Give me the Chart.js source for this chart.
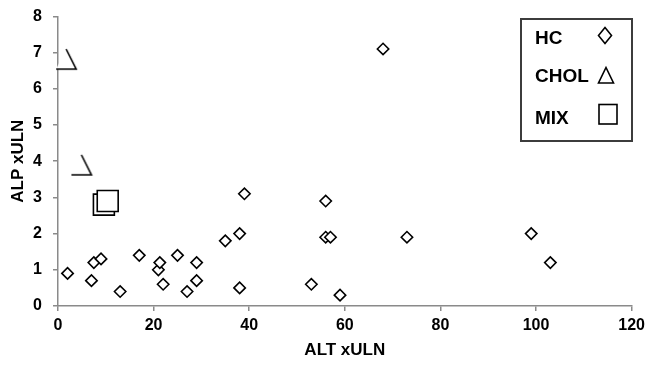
<!DOCTYPE html>
<html>
<head>
<meta charset="utf-8">
<script src="https://cdn.jsdelivr.net/npm/chart.js@4"></script>
<style>
  html, body { margin: 0; padding: 0; background: #fff; }
  #wrap { width: 648px; height: 369px; }
</style>
</head>
<body>
<div id="wrap"><canvas id="c" width="648" height="369"></canvas></div>
<script>
// ---- data ----
const seriesNames = ['HC', 'CHOL', 'MIX'];
const hcALT  = [2, 7, 7.5, 9, 13, 17, 21, 21.3, 22, 25, 27, 29, 29, 35, 38, 38, 39, 53, 56, 56, 57, 59, 68, 73, 99, 103];
const hcALP  = [0.9, 0.7, 1.2, 1.3, 0.4, 1.4, 1.0, 1.2, 0.6, 1.4, 0.4, 0.7, 1.2, 1.8, 2.0, 0.5, 3.1, 0.6, 2.9, 1.9, 1.9, 0.3, 7.1, 1.9, 2.0, 1.2];
const cholALT = [1.7, 4.9];
const cholALP = [6.82, 3.9];
const mixALT = [9.6, 10.4];
const mixALP = [2.8, 2.9];
const xTicks = [0, 20, 40, 60, 80, 100, 120];
const yTicks = [0, 1, 2, 3, 4, 5, 6, 7, 8];

const toPts = (xs, ys) => xs.map((x, i) => ({ x: x, y: ys[i] }));

// half-open triangle marker (left edge missing, white filled)
function makeTriangle() {
  const cv = document.createElement('canvas');
  cv.width = 26; cv.height = 26;
  const g = cv.getContext('2d');
  const cx = 13, top = 3, bot = 23, hw = 10;
  g.fillStyle = '#fff';
  g.beginPath(); g.moveTo(cx, top); g.lineTo(cx + hw, bot); g.lineTo(cx - hw, bot); g.closePath(); g.fill();
  g.strokeStyle = '#000'; g.lineWidth = 1.6;
  g.beginPath(); g.moveTo(cx, top); g.lineTo(cx + hw, bot); g.lineTo(cx - hw, bot); g.stroke();
  return cv;
}
const triImg = makeTriangle();

const FONT = "'Liberation Sans', Arial, sans-serif";
const AXIS_COLOR = '#8a8a8a';

const legendPlugin = {
  id: 'boxLegend',
  afterDraw(chart) {
    const ctx = chart.ctx;
    ctx.save();
    ctx.fillStyle = '#fff';
    ctx.fillRect(521, 19, 111, 122);
    ctx.strokeStyle = '#3c3c3c';
    ctx.lineWidth = 2;
    ctx.strokeRect(521, 19, 111, 122);
    ctx.fillStyle = '#000';
    ctx.font = 'bold 19px ' + FONT;
    ctx.textBaseline = 'alphabetic';
    ctx.textAlign = 'left';
    const baselines = [44, 82, 123.5];
    seriesNames.forEach((n, i) => ctx.fillText(n, 535, baselines[i]));
    ctx.strokeStyle = '#000';
    ctx.lineWidth = 1.6;
    // diamond
    ctx.beginPath();
    ctx.moveTo(605, 27.5); ctx.lineTo(611.5, 35.5); ctx.lineTo(605, 43.5); ctx.lineTo(598.5, 35.5); ctx.closePath();
    ctx.stroke();
    // triangle
    ctx.beginPath();
    ctx.moveTo(606, 67.5); ctx.lineTo(613.5, 83); ctx.lineTo(598.5, 83); ctx.closePath();
    ctx.stroke();
    // square
    ctx.strokeRect(599, 104.5, 18, 19.5);
    ctx.restore();
  }
};

new Chart(document.getElementById('c'), {
  type: 'scatter',
  data: {
    datasets: [
      {
        label: seriesNames[0],
        data: toPts(hcALT, hcALP),
        pointStyle: 'rectRot',
        pointRadius: 5.7,
        pointHoverRadius: 5.7,
        borderColor: '#000',
        backgroundColor: '#fff',
        borderWidth: 1.6,
        clip: false
      },
      {
        label: seriesNames[1],
        data: toPts(cholALT, cholALP),
        pointStyle: triImg,
        pointRadius: 10,
        pointHoverRadius: 10,
        borderColor: '#000',
        backgroundColor: '#fff',
        clip: false
      },
      {
        label: seriesNames[2],
        data: toPts(mixALT, mixALP),
        pointStyle: 'rect',
        pointRadius: 14.8,
        pointHoverRadius: 14.8,
        borderColor: '#000',
        backgroundColor: '#fff',
        borderWidth: 1.6,
        clip: false
      }
    ]
  },
  options: {
    responsive: false,
    animation: false,
    events: [],
    layout: { padding: { top: 15, right: 16, left: 0, bottom: 0 } },
    plugins: {
      legend: { display: false },
      tooltip: { enabled: false }
    },
    scales: {
      x: {
        type: 'linear',
        min: 0, max: 120,
        afterFit(scale) { scale.height = 63; scale.paddingLeft = 0; scale.paddingRight = 0; },
        afterBuildTicks(scale) { scale.ticks = xTicks.map(v => ({ value: v })); },
        border: { display: true, color: AXIS_COLOR, width: 1.5 },
        grid: { drawOnChartArea: false, drawTicks: true, tickLength: 5, color: AXIS_COLOR, lineWidth: 1.5 },
        ticks: { color: '#000', padding: 5, font: { family: FONT, size: 16, weight: 'bold' }, maxRotation: 0 },
        title: { display: true, text: 'ALT xULN', color: '#000', font: { family: FONT, size: 17, weight: 'bold' }, padding: { top: 0, bottom: 8 } }
      },
      y: {
        type: 'linear',
        min: 0, max: 8,
        afterFit(scale) { scale.width = 58; scale.paddingTop = 0; scale.paddingBottom = 0; },
        afterBuildTicks(scale) { scale.ticks = yTicks.map(v => ({ value: v })); },
        border: { display: true, color: AXIS_COLOR, width: 1.5 },
        grid: { drawOnChartArea: false, drawTicks: true, tickLength: 5, color: AXIS_COLOR, lineWidth: 1.5 },
        ticks: { color: '#000', padding: 11, font: { family: FONT, size: 16, weight: 'bold' } },
        title: { display: true, text: 'ALP xULN', color: '#000', font: { family: FONT, size: 17, weight: 'bold' }, padding: { top: 8, bottom: 0 } }
      }
    }
  },
  plugins: [legendPlugin]
});
</script>
</body>
</html>
